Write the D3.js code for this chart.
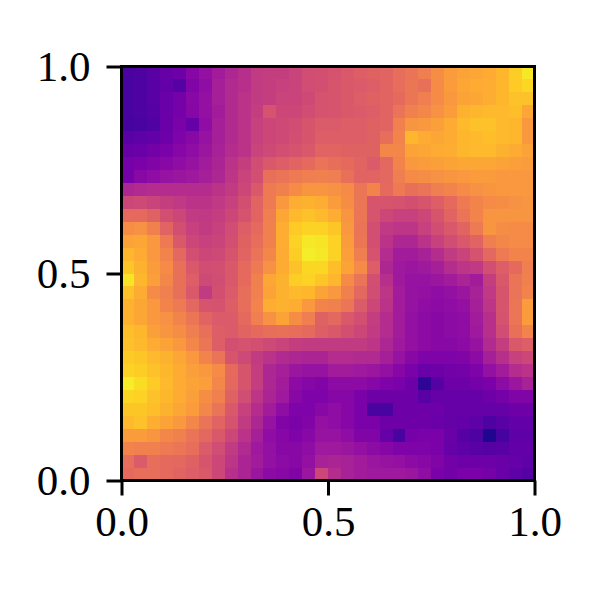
<!DOCTYPE html>
<html>
<head>
<meta charset="utf-8">
<script src="https://d3js.org/d3.v7.min.js"></script>
<style>
body { margin: 0; background: #fff; }
.tick text { font-family: "Liberation Serif", serif; font-size: 43px; fill: #000; }
</style>
</head>
<body>
<div id="chart-area"></div>
<script>
// Heatmap cell values, 0-100 on the plasma scale, top row first
var rows = [
[12,13,16,19,21,27,31,35,39,42,46,47,47,49,52,53,54,56,58,59,60,63,65,68,73,77,79,80,81,84,90,96],
[12,13,16,18,15,26,30,36,40,42,46,47,48,49,52,53,55,56,57,58,60,63,66,64,72,77,80,81,82,84,89,92],
[12,13,16,20,23,28,31,36,40,43,46,47,49,49,51,54,55,56,58,59,60,62,66,68,72,76,79,80,82,84,87,87],
[12,13,15,20,23,27,31,35,40,43,47,54,50,50,52,54,55,56,57,58,60,65,69,71,74,77,83,84,85,85,86,80],
[11,12,14,20,24,19,30,36,40,43,48,50,51,52,55,57,57,58,58,59,60,69,75,76,78,81,85,87,87,85,84,76],
[16,17,18,21,25,28,32,36,40,43,48,50,51,53,55,58,58,58,58,59,63,70,84,81,80,81,84,85,86,85,84,76],
[19,20,22,24,27,30,33,37,41,43,49,51,53,54,56,60,60,59,59,59,71,71,79,80,81,82,84,85,85,83,81,79],
[23,24,26,28,30,32,35,38,43,47,52,56,58,60,62,65,63,62,60,57,61,70,76,77,78,79,80,80,80,79,78,77],
[23,28,30,32,33,34,36,39,44,49,53,64,65,67,68,69,68,64,60,60,61,68,72,73,74,75,76,77,77,76,76,76],
[39,40,41,41,41,41,41,43,46,50,56,67,69,72,75,75,74,72,66,70,62,67,64,65,68,70,72,74,75,76,76,76],
[50,51,49,47,45,43,43,45,48,53,60,67,76,82,83,82,77,73,66,55,55,54,53,55,58,62,67,70,72,73,74,75],
[62,62,59,53,50,46,45,47,50,54,60,68,80,85,87,85,82,75,66,55,50,48,48,50,55,60,65,70,75,75,75,75],
[73,74,69,60,53,48,46,48,52,58,62,69,82,89,91,91,88,76,65,53,45,44,44,48,52,56,60,67,75,73,72,72],
[79,80,76,67,56,50,48,49,53,59,63,69,82,91,96,95,91,77,66,53,43,39,39,43,48,52,56,60,68,71,72,72],
[84,81,76,70,61,53,50,51,55,60,65,71,81,90,97,96,91,78,68,54,41,35,35,37,41,46,49,54,61,67,70,70],
[88,83,77,72,64,56,52,53,56,62,67,74,81,87,92,92,86,79,72,58,39,34,33,34,36,41,44,45,53,58,62,68],
[95,84,78,71,64,58,51,52,56,62,69,80,83,90,91,88,84,72,65,53,42,34,32,32,33,35,38,35,47,56,65,69],
[87,81,72,69,64,56,46,53,57,63,69,79,83,85,84,79,76,69,61,52,44,35,32,31,30,31,33,37,45,55,65,70],
[83,80,76,70,67,61,55,54,58,63,70,82,83,82,76,70,69,66,57,50,43,35,32,30,29,30,31,36,44,55,66,77],
[83,80,76,74,70,66,60,57,57,62,68,74,79,73,68,59,61,56,53,47,41,35,31,29,28,29,30,35,42,54,66,77],
[86,84,78,75,73,68,64,58,57,60,62,63,64,63,62,58,56,53,50,46,41,35,31,29,28,29,30,34,42,52,64,70],
[87,85,81,79,76,71,66,58,53,54,53,51,49,47,46,46,46,46,46,44,39,34,31,29,28,28,29,32,40,47,56,58],
[89,88,85,83,80,76,70,65,55,51,46,43,40,39,38,38,41,41,40,40,36,32,28,25,25,25,26,29,36,42,48,50],
[91,90,87,84,81,78,76,72,62,55,47,39,36,33,32,32,35,35,34,33,31,27,24,20,21,22,23,25,31,35,41,43],
[97,93,89,85,81,79,78,71,61,55,47,39,35,29,27,26,29,29,29,27,25,24,21,6,15,21,21,23,24,29,33,37],
[92,91,87,84,81,78,73,69,59,52,44,38,34,28,25,25,27,27,24,21,21,21,21,16,19,19,19,19,21,23,26,26],
[88,88,86,83,80,77,71,65,56,48,41,35,30,25,25,28,30,27,24,12,12,21,21,21,21,19,19,19,19,19,21,21],
[85,87,82,79,76,71,65,60,54,46,39,32,26,24,26,31,30,27,24,24,21,21,21,21,20,19,18,17,13,16,18,18],
[77,77,75,71,69,65,61,56,50,43,36,30,27,25,28,32,32,30,26,26,19,12,23,24,24,20,15,13,3,11,17,17],
[70,69,69,67,66,63,57,52,46,40,34,31,28,28,30,34,34,33,31,29,27,25,25,25,24,19,17,16,15,16,18,18],
[63,57,63,62,61,59,55,50,44,38,35,31,29,28,31,37,38,37,35,33,32,31,29,28,26,22,21,21,21,20,19,17],
[62,63,63,62,60,58,56,50,42,38,33,29,28,26,33,50,41,37,35,34,34,34,33,30,24,22,24,24,23,20,17,15]
];
var tickValues = [0, 0.5, 1];
var tickLabels = ["0.0", "0.5", "1.0"];

var left = 121.5, right = 534.5, top_ = 66.5, bottom = 480.5;

var svg = d3.select("#chart-area").append("svg")
    .attr("width", 600)
    .attr("height", 600)
    .style("display", "block");

var colIndex = d3.range(rows[0].length);
var rowIndex = d3.range(rows.length);

var xBand = d3.scaleBand().domain(colIndex).range([left, right]);
var yBand = d3.scaleBand().domain(rowIndex).range([top_, bottom]);
var color = d3.scaleSequential(d3.interpolatePlasma).domain([0, 100]);

var xAxisScale = d3.scaleLinear().domain([0, 1]).range([left, right]);
var yAxisScale = d3.scaleLinear().domain([0, 1]).range([bottom, top_]);

// Cells
svg.selectAll("g.row")
    .data(rows)
    .enter().append("g")
    .attr("class", "row")
    .each(function (row, r) {
        d3.select(this).selectAll("rect")
            .data(row)
            .enter().append("rect")
            .attr("x", function (d, c) { return xBand(c); })
            .attr("y", yBand(r))
            .attr("width", xBand.bandwidth())
            .attr("height", yBand.bandwidth())
            .attr("shape-rendering", "crispEdges")
            .attr("fill", function (d) { return color(d); });
    });

// Axes
var xAxis = d3.axisBottom(xAxisScale)
    .tickValues(tickValues)
    .tickFormat(function (d, i) { return tickLabels[i]; })
    .tickSize(15)
    .tickPadding(10);

var yAxis = d3.axisLeft(yAxisScale)
    .tickValues(tickValues)
    .tickFormat(function (d, i) { return tickLabels[i]; })
    .tickSize(15)
    .tickPadding(16);

svg.append("g").attr("transform", "translate(0," + bottom + ")").call(xAxis);
svg.append("g").attr("transform", "translate(" + left + ",0)").call(yAxis);

svg.selectAll(".domain").remove();
svg.selectAll(".tick line").attr("stroke", "#000").attr("stroke-width", 3);

// Frame
svg.append("rect")
    .attr("x", left)
    .attr("y", top_)
    .attr("width", right - left)
    .attr("height", bottom - top_)
    .attr("fill", "none")
    .attr("stroke", "#000")
    .attr("stroke-width", 3);
</script>
</body>
</html>
